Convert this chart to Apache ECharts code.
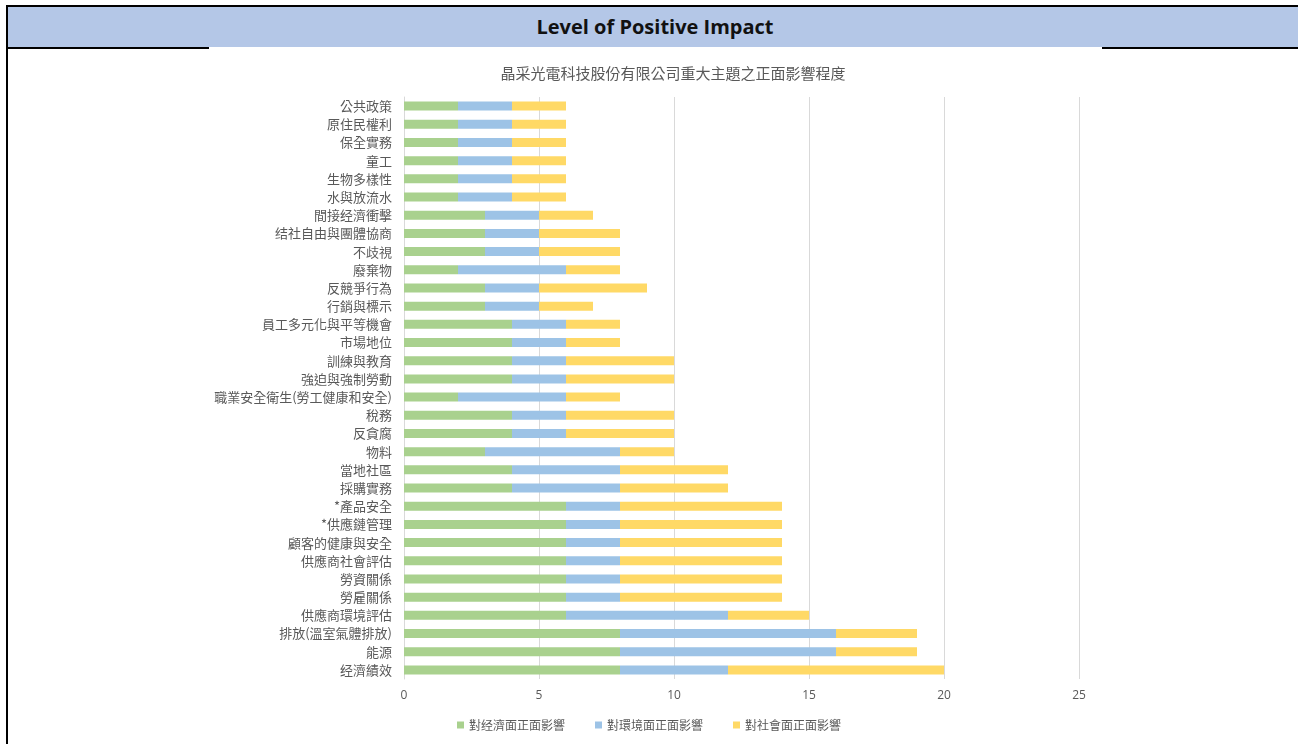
<!DOCTYPE html>
<html>
<head>
<meta charset="utf-8">
<script src="https://cdn.jsdelivr.net/npm/echarts@6/dist/echarts.min.js"></script>
<style>
  html, body { margin: 0; padding: 0; background: #fff; }
  body { width: 1298px; height: 744px; position: relative; overflow: hidden; }
  #frame { position: absolute; left: 6px; top: 5px; right: -4px; bottom: -4px;
           border-left: 2px solid #000; border-top: 2px solid #000; }
  #header { position: absolute; left: 0; top: 0; right: 0; height: 40px; background: #b4c7e7;
            font-family: "Open Sans", "Liberation Sans", sans-serif; font-weight: bold; font-size: 20px;
            color: #111; text-align: center; line-height: 40px; }
  .rule { position: absolute; top: 40px; height: 2px; background: #000; }
  #chart { position: absolute; left: 0; top: 0; width: 1298px; height: 744px; }
</style>
</head>
<body>
<div id="frame">
  <div id="header">Level of Positive Impact</div>
  <div class="rule" style="left:0; width:201px;"></div>
  <div class="rule" style="left:1094px; right:0;"></div>
</div>
<div id="chart"></div>
<script>
// Material topics, listed top to bottom
const topics = [
  '公共政策', '原住民權利', '保全實務', '童工', '生物多樣性', '水與放流水',
  '間接经濟衝擊', '结社自由與團體協商', '不歧視', '廢棄物', '反競爭行為', '行銷與標示',
  '員工多元化與平等機會', '市場地位', '訓練與教育', '強迫與強制勞動',
  '職業安全衛生(勞工健康和安全)', '稅務', '反貪腐', '物料', '當地社區', '採購實務',
  '*產品安全', '*供應鏈管理', '顧客的健康與安全', '供應商社會評估', '勞資關係', '勞雇關係',
  '供應商環境評估', '排放(溫室氣體排放)', '能源', '经濟績效'
];

// Positive impact scores per dimension
const economic = [2, 2, 2, 2, 2, 2, 3, 3, 3, 2, 3, 3, 4, 4, 4, 4, 2, 4, 4, 3, 4, 4, 6, 6, 6, 6, 6, 6, 6, 8, 8, 8];
const environmental = [2, 2, 2, 2, 2, 2, 2, 2, 2, 4, 2, 2, 2, 2, 2, 2, 4, 2, 2, 5, 4, 4, 2, 2, 2, 2, 2, 2, 6, 8, 8, 4];
const social = [2, 2, 2, 2, 2, 2, 2, 3, 3, 2, 4, 2, 2, 2, 4, 4, 2, 4, 4, 2, 4, 4, 6, 6, 6, 6, 6, 6, 3, 3, 3, 8];

const seriesNames = ['對经濟面正面影響', '對環境面正面影響', '對社會面正面影響'];
const xTicks = { min: 0, max: 25, interval: 5 };

const cjk = '"Noto Sans CJK TC", "Noto Sans CJK SC", sans-serif';
const chart = echarts.init(document.getElementById('chart'));

function stackSeries(name, data, color) {
  return {
    name: name, type: 'bar', stack: 'total', data: data,
    barWidth: 9,
    itemStyle: { color: color },
    emphasis: { disabled: true }
  };
}

chart.setOption({
  backgroundColor: 'transparent',
  animation: false,
  title: {
    text: '晶采光電科技股份有限公司重大主題之正面影響程度',
    left: 668, top: 61, textAlign: 'center',
    textStyle: { fontFamily: cjk, fontSize: 15, fontWeight: 'normal', color: '#595959' }
  },
  grid: { left: 404, right: 219, top: 97, bottom: 65, containLabel: false },
  legend: {
    bottom: 8, left: 'center',
    itemWidth: 7, itemHeight: 7, itemGap: 30, icon: 'rect',
    textStyle: { fontFamily: cjk, fontSize: 12, color: '#595959' },
    data: seriesNames
  },
  xAxis: {
    type: 'value', min: xTicks.min, max: xTicks.max, interval: xTicks.interval,
    axisLine: { show: false }, axisTick: { show: false },
    axisLabel: { fontFamily: '"Open Sans", sans-serif', fontSize: 12, color: '#595959', margin: 11 },
    splitLine: { lineStyle: { color: '#d9d9d9', width: 1 } }
  },
  yAxis: {
    type: 'category', data: topics, inverse: true,
    axisLine: { show: true, lineStyle: { color: '#d9d9d9' } },
    axisTick: { show: false },
    axisLabel: { fontFamily: cjk, fontSize: 13, color: '#595959', margin: 12 }
  },
  series: [
    stackSeries(seriesNames[0], economic, '#a9d18e'),
    stackSeries(seriesNames[1], environmental, '#9dc3e6'),
    stackSeries(seriesNames[2], social, '#ffd966')
  ]
});
</script>
</body>
</html>
